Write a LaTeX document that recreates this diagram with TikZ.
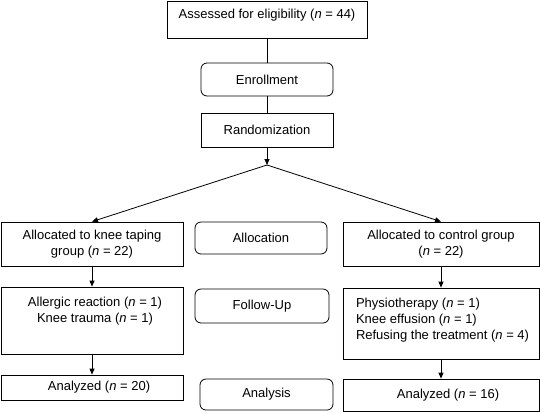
\documentclass[tikz,border=0pt]{standalone}
\usepackage{fontspec}
\setmainfont{Liberation Sans}
\usepackage{tikz}
\usetikzlibrary{arrows.meta}

\begin{document}
\begin{tikzpicture}[x=1pt,y=-1pt,font=\fontsize{13}{16}\selectfont,line width=0.8pt,
  box/.style n args={2}{draw,rectangle,minimum width=#1pt,minimum height=#2pt,inner sep=0pt,align=center},
  rbox/.style n args={2}{box={#1}{#2},rounded corners=6pt},
  arr/.style={-{Triangle[length=6pt,width=5pt]}}]
\useasboundingbox (0,0) rectangle (540,413);
% flow at the top
\node[box={200}{37}] (assess) at (267,19.5) {};
\node[anchor=base] (assesst) at ([yshift=-18pt]assess.north) {Assessed for eligibility (\textit{n} = 44)};
\node[rbox={132}{33}] (enroll) at (267,79.5) {Enrollment};
\node[box={132}{34}] (random) at (267,130) {Randomization};
\coordinate (split) at (267,165);
\draw (assess) -- (enroll);
\draw (enroll) -- (random);
\draw[arr] (random) -- (split);
% stage labels
\node[rbox={132}{32}] (alloc) at (261,238) {Allocation};
\node[rbox={134}{34}] (follow) at (262,306) {Follow-Up};
\node[rbox={133}{31}] (analysis) at (266.5,394.5) {Analysis};
% knee taping group
\node[box={182}{44}] (lalloc) at (92,244) {Allocated to knee taping\\group (\textit{n} = 22)};
\node[box={182}{67}] (lfol) at (92,320.5) {};
\node[anchor=north,align=center,inner sep=0pt] (lfolt) at ([xshift=3pt,yshift=-10.5pt]lfol.north)
   {Allergic reaction (\textit{n} = 1)\\Knee trauma (\textit{n} = 1)};
\node[box={182}{25}] (lana) at (92,387.5) {\hspace*{14pt}Analyzed (\textit{n} = 20)};
% control group
\node[box={196}{44}] (ralloc) at (441,244) {Allocated to control group\\(\textit{n} = 22)};
\node[box={196}{71}] (rfol) at (441,323.5) {};
\node[anchor=north west,align=left,inner sep=0pt] (rfolt) at ([xshift=13pt,yshift=-10.5pt]rfol.north west)
   {Physiotherapy (\textit{n} = 1)\\Knee effusion (\textit{n} = 1)\\Refusing the treatment (\textit{n} = 4)};
\node[box={196}{32}] (rana) at (441,395) {\hspace*{14pt}Analyzed (\textit{n} = 16)};
% connectors
\draw[arr] (split) -- (lalloc.north);
\draw[arr] (split) -- (ralloc.north);
\foreach \a/\b in {lalloc/lfol,lfol/lana,ralloc/rfol,rfol/rana} {
   \draw[arr] (\a) -- (\b);
}
\end{tikzpicture}
\end{document}
